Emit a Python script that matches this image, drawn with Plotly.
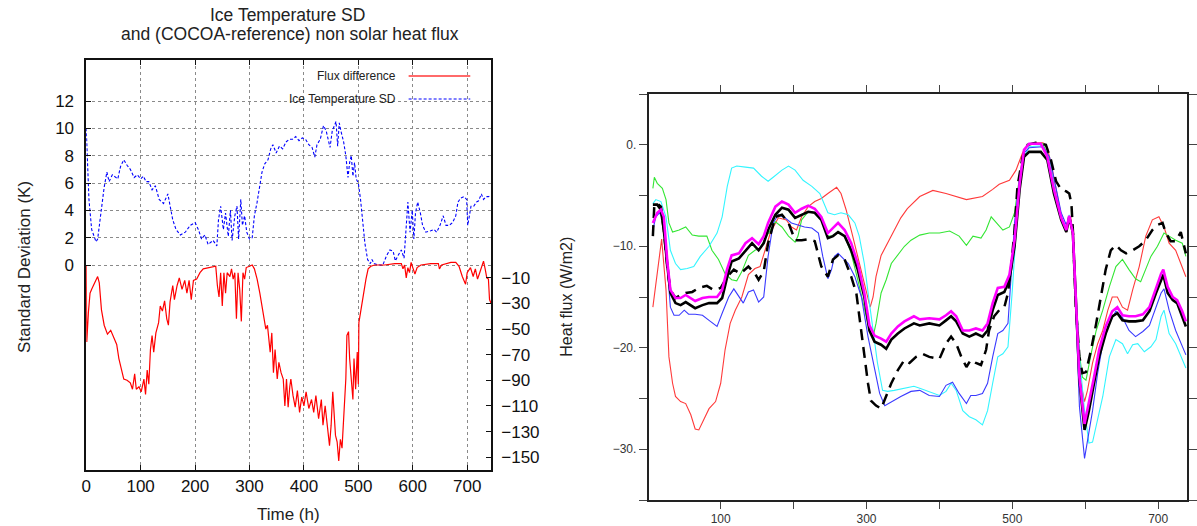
import plotly.graph_objects as go

W, H = 1197, 526

# ---------------- Left panel data ----------------
sd_hours = [0,2,5,10,18,21,27,33,38,42,48,54,58,63,69,75,81,88,94,100,105,110,115,121,127,134,142,150,154,159,165,173,182,191,200,206,212,218,224,233,240,243,247,252,256,261,265,268,273,277,280,284,287,291,295,300,305,309,314,319,323,328,334,339,343,349,355,361,367,373,379,385,391,397,403,409,415,420,424,430,436,441,444,448,452,456,459,462,465,468,473,477,481,484,487,490,493,496,500,504,508,512,517,522,525,529,536,545,552,558,564,568,573,579,584,587,591,595,599,602,605,609,614,618,624,633,639,644,650,656,661,667,673,679,683,688,694,699,701,704,707,712,717,721,726,730,735,739,744]
sd_values = [10.0,8.0,4.8,2.6,1.7,1.9,3.8,5.7,6.8,6.1,6.6,6.4,6.3,7.2,7.7,7.3,7.0,6.4,6.6,6.3,6.5,6.1,6.1,5.5,5.8,4.8,4.5,5.2,4.3,3.3,2.6,2.2,2.4,2.9,3.1,2.6,1.9,2.2,1.5,1.8,1.4,3.3,4.3,2.6,3.8,2.1,4.0,1.8,3.6,4.3,1.9,4.8,2.9,3.6,2.4,1.9,2.0,3.6,4.6,5.8,6.8,7.4,7.7,8.5,8.8,8.2,8.7,8.5,9.0,9.2,9.2,9.4,9.1,9.3,9.2,8.8,8.6,7.9,8.8,9.2,10.2,9.8,9.2,8.6,9.8,10.2,10.5,8.7,10.4,9.8,9.0,8.0,6.4,7.5,8.0,6.5,7.5,6.3,6.0,4.8,3.1,1.6,0.4,0.1,0.4,0.1,0.0,0.0,0.7,1.1,1.0,0.3,0.7,1.1,0.5,2.4,4.6,2.4,4.0,1.9,3.8,4.6,3.8,2.9,2.4,2.5,2.6,2.4,2.9,3.6,2.9,2.9,3.1,3.6,4.6,4.9,5.0,4.8,2.9,3.6,4.3,4.3,4.6,4.7,5.2,4.8,5.0,5.0,5.1]

flux_hours = [0,1,4,7,10,15,21,24,28,33,39,45,51,56,60,65,69,75,81,85,89,92,97,101,106,109,112,115,118,121,124,128,133,136,140,144,148,151,154,159,162,167,171,176,181,185,189,193,197,203,209,215,224,233,238,241,244,247,250,253,256,259,264,267,270,273,276,279,282,285,288,291,294,300,305,309,314,319,323,326,330,333,335,338,341,344,347,351,354,358,362,365,368,371,374,376,380,384,388,392,396,400,404,409,414,418,422,427,432,435,439,444,447,450,453,458,461,464,467,470,473,475,477,479,482,484,487,490,492,495,498,500,501,504,507,510,514,518,523,530,548,567,579,582,585,588,591,594,597,600,604,608,615,633,647,649,653,670,679,685,691,697,700,706,711,715,719,723,727,730,733,736,739,741,744]
flux_values = [0,-60,-37,-22,-19,-15,-9,-14,-35,-47,-54,-51,-57,-62,-73,-82,-89,-90,-92,-97,-85,-97,-95,-99,-89,-101,-82,-93,-66,-55,-68,-53,-45,-32,-36,-28,-42,-47,-29,-16,-27,-16,-10,-19,-12,-22,-12,-27,-12,-11,-6,-3,-2,-1,-1,-16,-25,-6,-32,-6,-22,-6,-9,-3,-11,-6,-42,-6,-19,-44,-6,-11,-2,-1,0,-3,-11,-22,-32,-40,-50,-47,-55,-68,-53,-84,-66,-89,-76,-84,-89,-110,-89,-111,-95,-89,-102,-111,-98,-115,-103,-110,-99,-112,-105,-115,-102,-120,-105,-125,-110,-133,-141,-125,-99,-133,-138,-153,-136,-143,-121,-110,-89,-55,-52,-73,-89,-105,-73,-97,-68,-93,-45,-37,-27,-19,-11,-3,-1,0,0,1,1,-3,0,-10,-2,-6,2,-2,-7,-2,0,1,1,-3,0,2,2,-1,-9,-15,-6,-2,-9,-3,-11,-6,0,3,-3,-10,-11,-27,-30]

sd_ticks = [0, 2, 4, 6, 8, 10, 12]
flux_ticks = [-10, -30, -50, -70, -90, -110, -130, -150]
time_ticks = [0, 100, 200, 300, 400, 500, 600, 700]

# ---------------- Right panel data ----------------
red_h = [7,19,25,29,34,38,45,52,59,65,70,77,84,93,100,106,113,120,129,138,147,154,161,168,179,190,197,204,211,220,229,238,247,259,265,272,279,286,293,300,305,309,313,320,329,338,347,356,373,391,409,437,459,473,482,496,505,514,521,530,542,548,555,562,569,574,577,580,583,586,590,594,599,603,610,617,624,631,637,644,651,658,665,674,683,692,701,708,715,724,731,738]
red_v = [-16.0,-9.3,-14.3,-20.9,-23.5,-24.8,-25.3,-25.5,-26.6,-28.0,-28.1,-27.0,-26.0,-25.3,-23.5,-20.2,-17.6,-16.3,-15.0,-12.8,-12.2,-12.0,-10.4,-8.7,-7.2,-7.4,-8.1,-8.4,-7.1,-6.1,-5.6,-5.3,-4.8,-4.2,-4.8,-6.4,-8.4,-10.4,-12.7,-14.6,-16.0,-15.0,-13.0,-10.9,-9.7,-8.4,-7.2,-6.3,-5.1,-4.5,-4.8,-5.4,-5.1,-4.4,-3.9,-3.5,-2.5,-0.8,0.0,0.2,0.2,-0.3,-2.5,-5.1,-7.7,-8.6,-7.7,-7.1,-9.0,-14.3,-19.2,-23.5,-25.3,-24.2,-21.5,-19.6,-18.3,-16.3,-15.0,-15.0,-16.0,-16.3,-14.3,-12.0,-9.0,-7.4,-7.1,-8.1,-9.7,-10.4,-11.7,-13.0]

green_h = [7,9,13,20,25,29,34,43,52,61,70,81,88,97,106,115,122,129,138,147,154,163,175,184,193,202,206,211,220,229,238,247,254,261,270,279,288,297,304,309,313,320,327,334,343,352,361,373,386,400,414,427,437,446,457,464,471,478,487,496,503,510,516,523,542,551,560,567,574,578,583,587,592,596,601,608,615,624,633,642,651,660,669,676,683,690,699,708,715,724,733,738]
green_v = [-4.3,-3.2,-3.8,-4.3,-5.4,-7.7,-8.6,-8.4,-8.1,-8.9,-9.0,-9.0,-10.4,-11.3,-12.7,-13.3,-13.4,-12.5,-10.9,-10.4,-10.2,-9.0,-7.6,-8.1,-9.0,-9.6,-9.0,-7.4,-6.6,-6.7,-7.2,-9.0,-9.0,-8.6,-9.0,-10.7,-13.3,-16.3,-18.3,-18.9,-17.6,-14.6,-13.3,-11.7,-10.9,-10.0,-9.4,-8.9,-8.7,-8.7,-8.5,-9.0,-9.9,-9.0,-9.2,-8.4,-7.1,-7.7,-8.4,-8.1,-6.7,-3.1,-0.5,0.1,0.1,-1.5,-5.4,-7.4,-8.4,-7.2,-8.7,-14.3,-20.6,-22.9,-23.2,-20.6,-18.3,-16.3,-14.0,-12.0,-11.3,-12.3,-13.2,-13.5,-12.3,-11.0,-10.0,-8.7,-9.0,-9.4,-9.7,-11.0]

cyan_h = [7,11,18,25,31,38,45,54,63,72,84,95,102,109,115,122,134,145,156,165,172,184,193,202,213,225,236,247,256,265,275,284,290,297,304,309,315,322,329,338,352,365,373,386,400,409,416,423,432,441,450,459,466,473,480,487,494,500,505,510,516,523,542,551,560,567,574,578,583,587,592,599,605,610,617,624,633,642,651,658,665,672,681,690,697,704,708,715,724,731,738]
cyan_v = [-5.8,-5.4,-5.6,-7.1,-10.4,-11.7,-12.3,-12.2,-12.0,-11.0,-10.0,-8.7,-7.1,-4.1,-2.3,-2.1,-2.2,-2.3,-3.1,-3.6,-3.2,-2.5,-2.1,-2.5,-3.5,-4.1,-4.8,-6.7,-6.9,-6.7,-6.9,-7.7,-9.0,-11.7,-15.6,-18.3,-21.5,-24.2,-24.3,-24.2,-24.0,-23.8,-24.0,-24.3,-24.7,-24.3,-23.5,-24.2,-26.2,-26.8,-27.1,-27.6,-26.2,-23.5,-20.9,-20.6,-19.9,-14.3,-8.7,-4.4,-1.2,-0.2,-0.1,-1.8,-5.1,-7.2,-8.4,-6.9,-8.7,-14.3,-20.9,-26.2,-29.4,-29.3,-27.1,-24.8,-20.9,-19.2,-19.6,-20.6,-19.7,-19.6,-20.4,-19.9,-19.2,-16.9,-16.3,-18.6,-19.6,-20.9,-22.0]

blue_h = [7,11,16,21,27,31,36,43,50,56,65,75,84,95,102,111,118,125,131,138,145,152,159,165,172,179,188,197,206,215,225,234,240,247,252,256,261,268,275,284,293,302,311,318,325,334,347,361,373,386,400,409,418,427,437,443,450,459,466,473,480,487,494,498,503,510,516,523,542,551,560,567,574,578,583,587,592,599,603,610,617,624,633,642,651,660,669,679,688,697,704,708,715,724,731,738]
blue_v = [-8.4,-7.1,-6.7,-7.4,-12.3,-16.0,-16.8,-16.8,-16.3,-16.7,-16.7,-16.8,-17.3,-17.9,-16.6,-15.0,-14.2,-15.0,-15.6,-14.5,-14.3,-15.5,-15.0,-11.0,-7.7,-6.9,-7.2,-7.7,-7.9,-8.1,-8.2,-8.7,-11.0,-13.2,-12.3,-11.0,-10.7,-11.2,-11.7,-13.0,-15.0,-18.9,-22.2,-24.5,-25.7,-25.3,-24.8,-24.3,-24.2,-24.7,-24.8,-23.7,-23.4,-24.5,-25.5,-24.7,-24.7,-24.5,-23.5,-20.9,-18.6,-18.3,-17.6,-13.3,-7.7,-3.1,-0.8,-0.3,-0.2,-1.2,-4.4,-6.7,-7.9,-7.1,-8.7,-16.0,-25.8,-30.9,-29.1,-26.2,-22.5,-19.6,-17.6,-16.4,-17.0,-18.3,-18.9,-18.4,-17.8,-16.0,-14.6,-14.2,-16.3,-18.3,-19.6,-20.7]

mean_h = [7,13,18,22,27,31,38,45,52,59,65,75,84,95,102,109,115,125,134,143,152,159,165,175,184,193,202,211,220,229,238,247,254,261,270,279,288,297,304,311,320,327,334,343,352,365,373,386,400,409,416,423,432,441,450,459,466,473,480,489,496,503,510,516,523,539,548,557,567,574,578,583,587,592,599,605,612,619,628,637,644,651,660,669,679,688,697,704,707,713,720,726,733,738]
black_v = [-5.9,-5.9,-6.4,-8.4,-12.0,-14.6,-15.6,-15.8,-15.5,-15.8,-16.1,-15.8,-15.6,-15.6,-15.1,-13.0,-11.5,-11.2,-10.4,-9.7,-10.4,-9.7,-8.4,-6.9,-6.2,-6.4,-7.2,-6.9,-6.6,-6.7,-7.4,-9.2,-9.0,-8.6,-9.0,-10.4,-12.3,-15.0,-18.3,-19.4,-19.7,-20.1,-19.2,-18.6,-18.1,-17.6,-17.8,-17.6,-17.8,-17.3,-16.9,-17.4,-18.6,-18.9,-18.6,-18.9,-18.3,-16.3,-14.8,-14.5,-13.3,-10.0,-4.4,-1.2,-0.7,-0.7,-1.5,-4.8,-7.4,-8.6,-7.1,-8.7,-15.0,-23.2,-28.1,-26.2,-23.5,-20.9,-18.6,-16.9,-16.6,-17.3,-17.4,-17.4,-17.3,-16.4,-14.6,-13.3,-12.8,-14.6,-15.3,-15.6,-16.9,-17.9]
magenta_v = [-7.7,-6.7,-6.4,-7.1,-11.7,-14.3,-15.1,-15.1,-14.8,-15.1,-15.4,-15.1,-15.0,-15.0,-14.3,-12.2,-10.9,-10.7,-9.7,-9.2,-9.8,-9.0,-7.7,-6.1,-5.6,-5.9,-6.7,-6.3,-6.0,-6.3,-7.1,-8.7,-8.2,-7.7,-8.4,-9.7,-11.7,-14.6,-17.8,-18.8,-19.1,-19.4,-18.6,-17.9,-17.4,-16.9,-17.2,-17.1,-17.2,-16.8,-16.4,-16.9,-18.3,-18.3,-18.1,-18.3,-17.6,-15.6,-14.1,-14.0,-12.8,-9.4,-3.8,-0.5,0.1,0.1,-1.2,-4.4,-7.2,-8.4,-7.0,-8.7,-15.0,-22.9,-27.5,-25.5,-22.9,-20.2,-17.9,-16.4,-16.0,-16.8,-16.9,-16.9,-16.7,-16.0,-14.1,-12.7,-12.3,-14.0,-15.0,-15.3,-16.4,-17.4]

dashed_h = [7,9,13,18,22,27,31,38,45,52,61,70,81,90,100,109,118,127,138,147,152,159,165,175,184,193,202,211,220,229,238,247,254,261,270,279,286,290,297,302,306,313,320,327,334,343,352,359,368,377,386,400,409,416,423,430,437,443,450,457,464,468,475,482,489,494,498,503,507,514,521,532,546,553,560,567,574,578,581,583,587,592,596,601,608,615,621,628,635,642,649,656,665,674,683,692,699,706,710,717,724,731,738]
dashed_v = [-9.0,-5.9,-5.8,-6.1,-8.4,-12.3,-14.3,-15.1,-14.8,-14.6,-14.5,-14.1,-13.9,-14.3,-14.1,-13.0,-12.3,-12.7,-12.0,-12.7,-13.3,-12.5,-9.7,-7.1,-6.9,-7.7,-9.4,-9.4,-9.3,-9.5,-12.0,-13.0,-11.3,-10.9,-11.3,-13.0,-14.6,-16.9,-20.9,-23.5,-25.2,-25.7,-26.0,-24.8,-23.5,-22.2,-21.2,-21.5,-20.9,-20.6,-20.9,-21.1,-19.6,-18.9,-19.6,-20.9,-21.9,-21.2,-21.5,-21.7,-20.2,-18.3,-16.9,-16.3,-16.0,-14.6,-12.3,-8.4,-4.1,-1.2,0.0,0.2,0.0,-1.5,-3.6,-4.4,-4.6,-4.8,-5.8,-8.4,-16.0,-20.9,-22.5,-22.4,-20.2,-17.6,-15.0,-12.3,-10.4,-9.9,-10.4,-10.7,-10.4,-10.0,-9.4,-8.4,-7.9,-7.7,-8.6,-9.5,-9.5,-8.6,-10.7]

hf_tickvals = [-35, -30, -25, -20, -15, -10, -5, 0, 5]
hf_ticktext = ["", "\u221230.", "", "\u221220.", "", "\u221210.", "", "0.", ""]
hr_tickvals = [100, 200, 300, 400, 500, 600, 700]
hr_ticktext = ["100", "", "300", "", "500", "", "700"]

FONT = "Liberation Sans, Arial, sans-serif"

def px(x):
    return x / W

def py(y):
    return (H - y) / H

fig = go.Figure()

# Left panel traces
fig.add_trace(go.Scatter(x=flux_hours, y=flux_values, mode="lines", yaxis="y2", xaxis="x",
                         line=dict(color="#ff0000", width=1.2), showlegend=False))
fig.add_trace(go.Scatter(x=sd_hours, y=sd_values, mode="lines", yaxis="y", xaxis="x",
                         line=dict(color="#0000ff", width=1.1, dash="3px,2px"), showlegend=False))

# Right panel traces
thin = [(red_h, red_v, "#ff3a3a"), (green_h, green_v, "#33e633"),
        (cyan_h, cyan_v, "#33f5ff"), (blue_h, blue_v, "#3a3aff")]
for hx, vv, c in thin:
    fig.add_trace(go.Scatter(x=hx, y=vv, mode="lines", xaxis="x2", yaxis="y3",
                             line=dict(color=c, width=1.1), showlegend=False))
fig.add_trace(go.Scatter(x=dashed_h, y=dashed_v, mode="lines", xaxis="x2", yaxis="y3",
                         line=dict(color="#000000", width=2.5, dash="11px,7px"), showlegend=False))
fig.add_trace(go.Scatter(x=mean_h, y=black_v, mode="lines", xaxis="x2", yaxis="y3",
                         line=dict(color="#000000", width=2.6), showlegend=False))
fig.add_trace(go.Scatter(x=mean_h, y=magenta_v, mode="lines", xaxis="x2", yaxis="y3",
                         line=dict(color="#ff00ff", width=2.6), showlegend=False))

grid = dict(showgrid=True, gridcolor="#8a8a8a", gridwidth=1, griddash="dot")
tickfont_l = dict(family=FONT, size=17, color="#111")
tickfont_r = dict(family=FONT, size=12, color="#333")

fig.update_layout(
    width=W, height=H, autosize=False,
    margin=dict(l=0, r=0, t=0, b=0),
    paper_bgcolor="white", plot_bgcolor="white",
    showlegend=False,
    xaxis=dict(domain=[px(81.7), px(489)], range=[0, 744], anchor="y",
               tickmode="array", tickvals=time_ticks, ticks="inside", ticklen=5,
               tickcolor="#111", showline=True, linecolor="#111", linewidth=1.5,
               mirror="ticks", zeroline=False, tickfont=tickfont_l, **grid),
    yaxis=dict(domain=[py(470), py(60)], range=[-15, 15], anchor="x",
               tickmode="array", tickvals=sd_ticks, ticks="inside", ticklen=5,
               tickcolor="#111", showline=True, linecolor="#111", linewidth=1.5,
               zeroline=False, tickfont=tickfont_l, ticklabelstandoff=7, **grid),
    yaxis2=dict(overlaying="y", side="right", anchor="x", range=[-160, 160],
                tickmode="array", tickvals=flux_ticks, ticks="inside", ticklen=5,
                tickcolor="#111", showline=True, linecolor="#111", linewidth=1.5,
                showgrid=False, zeroline=False, tickfont=tickfont_l, ticklabelstandoff=5),
    xaxis2=dict(domain=[px(647.3), px(1189.3)], range=[1, 740], anchor="y3",
                tickmode="array", tickvals=hr_tickvals, ticktext=hr_ticktext,
                ticks="outside", ticklen=7, tickcolor="#444", tickwidth=1.2,
                showline=True, linecolor="#222", linewidth=1.5, mirror="ticks",
                showgrid=False, zeroline=False, tickfont=tickfont_r),
    yaxis3=dict(domain=[py(500), py(94)], range=[-35, 5], anchor="x2",
                tickmode="array", tickvals=hf_tickvals, ticktext=hf_ticktext,
                ticks="outside", ticklen=8, tickcolor="#444", tickwidth=1.2,
                showline=True, linecolor="#222", linewidth=1.5, mirror="ticks",
                showgrid=False, zeroline=False, tickfont=tickfont_r),
)

# legend box (opaque, hides grid)
shapes = [
    dict(type="rect", xref="paper", yref="paper", x0=px(203), x1=px(478), y0=py(111), y1=py(61),
         fillcolor="white", line=dict(width=0), layer="between"),
    dict(type="line", xref="paper", yref="paper", x0=px(406), x1=px(468), y0=py(76), y1=py(76),
         line=dict(color="#ff6a6a", width=2)),
    dict(type="line", xref="paper", yref="paper", x0=px(406), x1=px(468), y0=py(99), y1=py(99),
         line=dict(color="#0000ff", width=1, dash="3px,2px")),
]
fig.update_layout(shapes=shapes)

ann = [
    dict(text="Ice Temperature SD", x=px(284), y=py(15), size=17.5, angle=0, xa="center"),
    dict(text="and (COCOA-reference) non solar heat flux", x=px(287), y=py(34), size=17.5, angle=0, xa="center"),
    dict(text="Standard Deviation (K)", x=px(19), y=py(267), size=17, angle=-90, xa="center"),
    dict(text="Time (h)", x=px(285), y=py(514), size=17, angle=0, xa="center"),
    dict(text="Flux difference", x=px(395), y=py(76), size=12, angle=0, xa="right"),
    dict(text="Ice Temperature SD", x=px(395), y=py(99), size=12, angle=0, xa="right"),
    dict(text="Heat flux (W/m2)", x=px(564), y=py(297), size=16, angle=-90, xa="center"),
]
for a in ann:
    fig.add_annotation(text=a["text"], x=a["x"], y=a["y"], xref="paper", yref="paper",
                       showarrow=False, textangle=a["angle"], xanchor=a["xa"], yanchor="middle",
                       font=dict(family=FONT, size=a["size"], color="#222"))

fig.write_html("out.html", config={"displayModeBar": False},
               post_script="document.body.style.margin='0';document.body.style.overflow='hidden';")
